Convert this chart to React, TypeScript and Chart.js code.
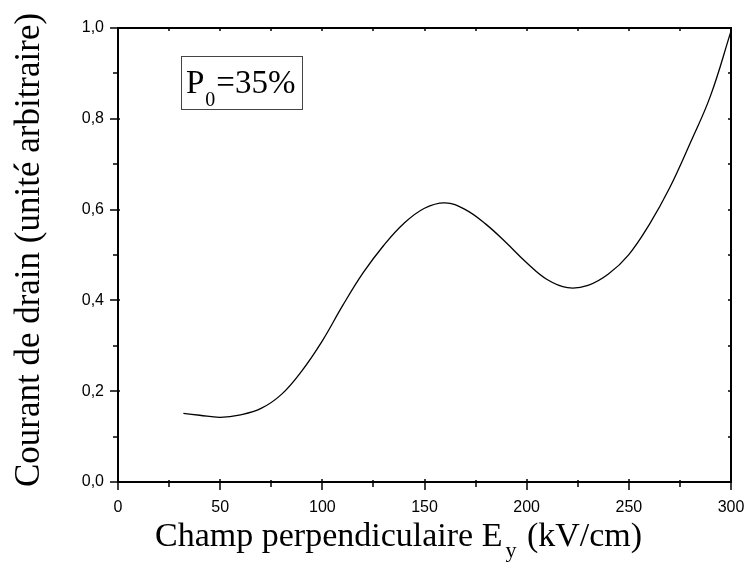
import React, { useEffect, useRef } from 'react';
import { Chart, registerables } from 'chart.js';

Chart.register(...registerables);

// Data
const fieldKVcm = [32, 40, 50, 60, 70, 80, 90, 100, 110, 120, 130, 140, 150, 160, 170, 180, 190, 200, 210, 220, 230, 240, 250, 260, 270, 280, 290, 300];
const drainCurrent = [0.151, 0.147, 0.1425, 0.148, 0.162, 0.193, 0.245, 0.311, 0.389, 0.461, 0.521, 0.570, 0.603, 0.615, 0.600, 0.568, 0.527, 0.483, 0.446, 0.428, 0.433, 0.458, 0.501, 0.567, 0.648, 0.746, 0.851, 0.993];

const xMajorTicks = [0, 50, 100, 150, 200, 250, 300];
const xMinorTicks = [25, 75, 125, 175, 225, 275];
const yMajorTicks = [0, 0.2, 0.4, 0.6, 0.8, 1.0];
const yMinorTicks = [0.1, 0.3, 0.5, 0.7, 0.9];

const xTitleMain = 'Champ perpendiculaire E';
const xTitleSub = 'y';
const xTitleEnd = ' (kV/cm)';
const yTitle = 'Courant de drain (unité arbitraire)';
const noteMain = 'P';
const noteSub = '0';
const noteEnd = '=35%';

const SERIF = '"Liberation Serif", "Times New Roman", serif';
const SANS = '"Liberation Sans", Arial, sans-serif';

const decoPlugin = {
  id: 'deco',
  afterDraw(chart: any) {
    const ctx = chart.ctx as CanvasRenderingContext2D;
    const { left, right, top, bottom } = chart.chartArea;
    const xs = chart.scales.x;
    const ys = chart.scales.y;
    ctx.save();
    ctx.strokeStyle = '#000';
    ctx.lineWidth = 2;
    ctx.strokeRect(left, top, right - left, bottom - top);

    ctx.lineWidth = 1.5;
    ctx.beginPath();
    xMajorTicks.forEach((v) => {
      const p = Math.round(xs.getPixelForValue(v));
      ctx.moveTo(p, bottom - 3);
      ctx.lineTo(p, bottom + 8);
      ctx.moveTo(p, top);
      ctx.lineTo(p, top + 3);
    });
    xMinorTicks.forEach((v) => {
      const p = Math.round(xs.getPixelForValue(v));
      ctx.moveTo(p, bottom - 2);
      ctx.lineTo(p, bottom + 5);
      ctx.moveTo(p, top);
      ctx.lineTo(p, top + 3);
    });
    yMajorTicks.forEach((v) => {
      const p = Math.round(ys.getPixelForValue(v));
      ctx.moveTo(left - 8, p);
      ctx.lineTo(left + 2, p);
      ctx.moveTo(right, p);
      ctx.lineTo(right - 3, p);
    });
    yMinorTicks.forEach((v) => {
      const p = Math.round(ys.getPixelForValue(v));
      ctx.moveTo(left - 5, p);
      ctx.lineTo(left + 1, p);
      ctx.moveTo(right, p);
      ctx.lineTo(right - 3, p);
    });
    ctx.stroke();

    ctx.fillStyle = '#000';
    ctx.textBaseline = 'alphabetic';
    ctx.textAlign = 'left';
    ctx.font = `34px ${SERIF}`;
    let x = 155;
    const baseX = 546;
    ctx.fillText(xTitleMain, x, baseX);
    x += ctx.measureText(xTitleMain).width + 3;
    ctx.font = `22px ${SERIF}`;
    ctx.fillText(xTitleSub, x, baseX + 11);
    x += ctx.measureText(xTitleSub).width + 2;
    ctx.font = `34px ${SERIF}`;
    ctx.fillText(xTitleEnd, x, baseX);

    ctx.save();
    ctx.translate(39, 250);
    ctx.rotate(-Math.PI / 2);
    ctx.textAlign = 'center';
    ctx.font = `35px ${SERIF}`;
    ctx.fillText(yTitle, 0, 0);
    ctx.restore();

    ctx.strokeStyle = '#444';
    ctx.lineWidth = 1;
    ctx.strokeRect(181.5, 56.5, 121, 53);
    ctx.textAlign = 'left';
    ctx.font = `33px ${SERIF}`;
    let ax = 186;
    ctx.fillText(noteMain, ax, 93);
    ax += ctx.measureText(noteMain).width + 1;
    ctx.font = `20px ${SERIF}`;
    ctx.fillText(noteSub, ax, 106);
    ax += ctx.measureText(noteSub).width + 1;
    ctx.font = `33px ${SERIF}`;
    ctx.fillText(noteEnd, ax, 93);
    ctx.restore();
  },
};

export default function App() {
  const ref = useRef<HTMLCanvasElement | null>(null);
  useEffect(() => {
    if (!ref.current) return;
    const chart = new Chart(ref.current, {
      type: 'line',
      data: {
        datasets: [
          {
            data: fieldKVcm.map((x, i) => ({ x, y: drainCurrent[i] })),
            borderColor: '#000',
            borderWidth: 1.3,
            pointRadius: 0,
            fill: false,
            tension: 0.4,
          },
        ],
      },
      options: {
        responsive: false,
        animation: false,
        devicePixelRatio: 1,
        layout: { padding: { top: 28, right: 16, left: 0, bottom: 0 } },
        plugins: { legend: { display: false }, tooltip: { enabled: false } },
        scales: {
          x: {
            type: 'linear',
            min: 0,
            max: 300,
            border: { display: false },
            grid: { display: false, drawTicks: false },
            afterBuildTicks: (s: any) => {
              s.ticks = xMajorTicks.map((v) => ({ value: v }));
            },
            afterFit: (s: any) => {
              s.height = 81;
              s.paddingLeft = 0;
              s.paddingRight = 0;
            },
            ticks: {
              autoSkip: false,
              maxRotation: 0,
              padding: 16,
              color: '#000',
              font: { family: SANS, size: 16 },
              callback: (v: any) => String(v),
            },
          },
          y: {
            type: 'linear',
            min: 0,
            max: 1,
            border: { display: false },
            grid: { display: false, drawTicks: false },
            afterBuildTicks: (s: any) => {
              s.ticks = yMajorTicks.map((v) => ({ value: v }));
            },
            afterFit: (s: any) => {
              s.width = 118;
              s.paddingTop = 0;
              s.paddingBottom = 0;
            },
            ticks: {
              autoSkip: false,
              padding: 14,
              color: '#000',
              font: { family: SANS, size: 16 },
              callback: (v: any) => Number(v).toFixed(1).replace('.', ','),
            },
          },
        },
      },
      plugins: [decoPlugin],
    });
    return () => chart.destroy();
  }, []);
  return (
    <div style={{ position: 'fixed', left: 0, top: 0, width: 747, height: 563, background: '#fff' }}>
      <canvas ref={ref} width={747} height={563} style={{ display: 'block' }} />
    </div>
  );
}
